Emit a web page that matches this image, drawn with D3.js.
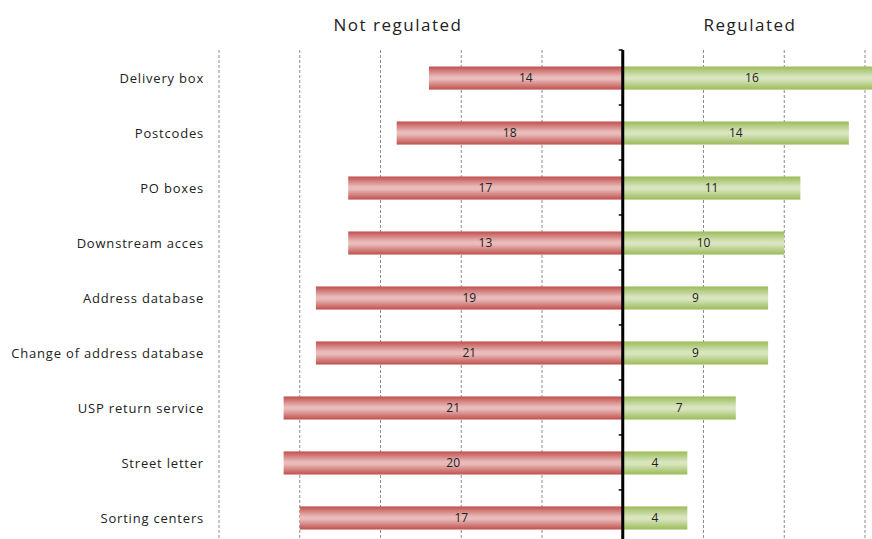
<!DOCTYPE html>
<html>
<head>
<meta charset="utf-8">
<script src="https://d3js.org/d3.v7.min.js"></script>
<style>
  body { margin: 0; background: #fff; }
  svg { display: block; }
</style>
</head>
<body>
<div id="chart"></div>
<script>
// categories, top to bottom
var categories = ["Delivery box", "Postcodes", "PO boxes", "Downstream acces", "Address database",
  "Change of address database", "USP return service", "Street letter", "Sorting centers"];

// bar lengths as drawn (not regulated goes left)
var notRegulated = [12, 14, 17, 17, 19, 19, 21, 21, 20];
var regulated = [16, 14, 11, 10, 9, 9, 7, 4, 4];

// numbers printed inside the bars
var notRegulatedLabels = ["14", "18", "17", "13", "19", "21", "21", "20", "17"];
var regulatedLabels = ["16", "14", "11", "10", "9", "9", "7", "4", "4"];

var gridTicks = [-25, -20, -15, -10, -5, 5, 10, 15];

var width = 872, height = 539;

var svg = d3.select("#chart").append("svg")
  .attr("width", width)
  .attr("height", height);

var defs = svg.append("defs");

function addGradient(id, edge, mid) {
  var g = defs.append("linearGradient")
    .attr("id", id)
    .attr("x1", 0).attr("y1", 0).attr("x2", 0).attr("y2", 1);
  g.append("stop").attr("offset", "0%").attr("stop-color", edge);
  g.append("stop").attr("offset", "45%").attr("stop-color", mid);
  g.append("stop").attr("offset", "55%").attr("stop-color", mid);
  g.append("stop").attr("offset", "100%").attr("stop-color", edge);
}
addGradient("redGrad", "#c0504d", "#e9bcbb");
addGradient("greenGrad", "#9bbb59", "#d8e5bf");

var x = d3.scaleLinear().domain([-25, 15]).range([219, 865]);

var y = d3.scaleBand()
  .domain(categories)
  .range([50, 546])
  .paddingInner(0.58)
  .paddingOuter(0.3);

var fontFam = "'Open Sans', sans-serif";

// dashed grid
svg.append("g").selectAll("line")
  .data(gridTicks)
  .enter()
  .append("line")
  .attr("x1", d => x(d))
  .attr("x2", d => x(d))
  .attr("y1", 50)
  .attr("y2", height)
  .attr("stroke", "#8c8c8c")
  .attr("stroke-width", 1)
  .attr("stroke-dasharray", "3,2");

// titles
svg.append("text")
  .attr("x", 398).attr("y", 31)
  .attr("text-anchor", "middle")
  .style("font-family", fontFam)
  .style("font-size", "17px")
  .style("letter-spacing", "1.5px")
  .attr("fill", "#222")
  .text("Not regulated");

svg.append("text")
  .attr("x", 750).attr("y", 31)
  .attr("text-anchor", "middle")
  .style("font-family", fontFam)
  .style("font-size", "17px")
  .style("letter-spacing", "1.5px")
  .attr("fill", "#222")
  .text("Regulated");

var rows = categories.map((c, i) => ({
  cat: c,
  left: notRegulated[i],
  right: regulated[i],
  leftLabel: notRegulatedLabels[i],
  rightLabel: regulatedLabels[i]
}));

// left bars
svg.append("g").selectAll("rect")
  .data(rows)
  .enter()
  .append("rect")
  .attr("x", d => x(-d.left))
  .attr("y", d => y(d.cat))
  .attr("width", d => x(0) - x(-d.left))
  .attr("height", y.bandwidth())
  .attr("fill", "url(#redGrad)");

// right bars
svg.append("g").selectAll("rect")
  .data(rows)
  .enter()
  .append("rect")
  .attr("x", x(0))
  .attr("y", d => y(d.cat))
  .attr("width", d => x(d.right) - x(0))
  .attr("height", y.bandwidth())
  .attr("fill", "url(#greenGrad)");

// value labels
var labelStyle = function(sel) {
  sel.attr("text-anchor", "middle")
    .attr("dy", "0.35em")
    .style("font-family", fontFam)
    .style("font-size", "12px")
    .attr("fill", "#222");
};

svg.append("g").selectAll("text")
  .data(rows)
  .enter()
  .append("text")
  .attr("x", d => (x(-d.left) + x(0)) / 2)
  .attr("y", d => y(d.cat) + y.bandwidth() / 2)
  .call(labelStyle)
  .text(d => d.leftLabel);

svg.append("g").selectAll("text")
  .data(rows)
  .enter()
  .append("text")
  .attr("x", d => (x(d.right) + x(0)) / 2)
  .attr("y", d => y(d.cat) + y.bandwidth() / 2)
  .call(labelStyle)
  .text(d => d.rightLabel);

// category labels
svg.append("g").selectAll("text")
  .data(categories)
  .enter()
  .append("text")
  .attr("x", 204)
  .attr("y", d => y(d) + y.bandwidth() / 2)
  .attr("text-anchor", "end")
  .attr("dy", "0.35em")
  .style("font-family", fontFam)
  .style("font-size", "13px")
  .style("letter-spacing", "0.8px")
  .attr("fill", "#222")
  .text(d => d);

// center axis with small ticks between categories
var step = y.step();
var axisG = svg.append("g");
axisG.append("line")
  .attr("x1", x(0)).attr("x2", x(0))
  .attr("y1", 50).attr("y2", height)
  .attr("stroke", "#000")
  .attr("stroke-width", 3);

axisG.selectAll(".tick")
  .data(d3.range(categories.length + 1))
  .enter()
  .append("line")
  .attr("x1", x(0) - 4).attr("x2", x(0))
  .attr("y1", i => 50 + i * step)
  .attr("y2", i => 50 + i * step)
  .attr("stroke", "#000")
  .attr("stroke-width", 1.5);
</script>
</body>
</html>
